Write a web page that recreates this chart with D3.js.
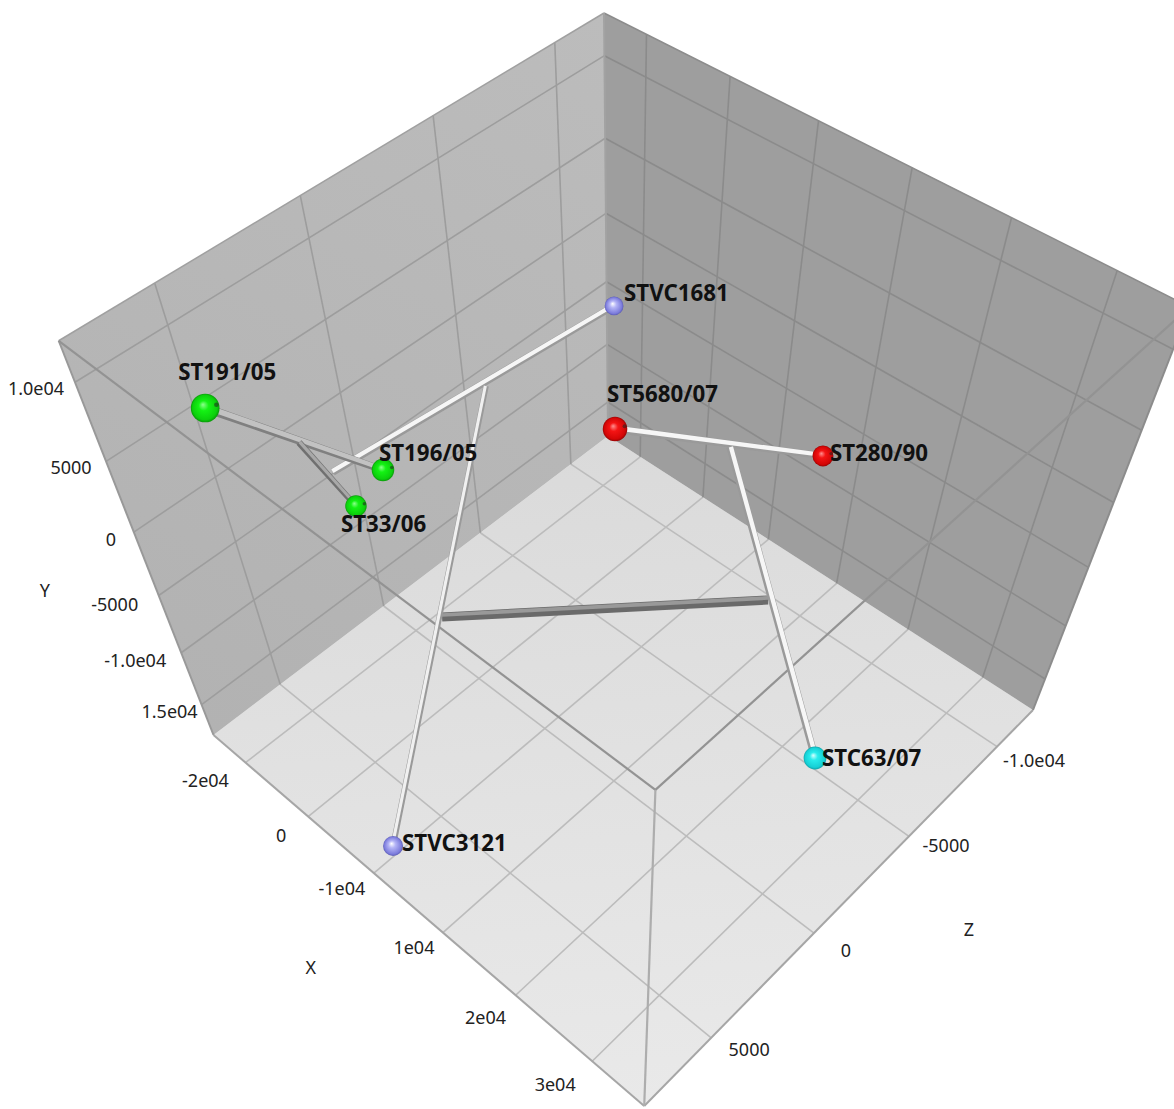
<!DOCTYPE html>
<html><head><meta charset="utf-8"><script src="https://cdn.jsdelivr.net/npm/d3@7"></script>
<style>html,body{margin:0;background:#fff}svg{display:block}</style></head>
<body><div id="chart"></div>
<script>
// strains, first 8 have a ball and a label, the rest are branch points of the tree
const nodeNames=["STVC1681","ST191/05","ST196/05","ST33/06","ST5680/07","ST280/90","STC63/07","STVC3121","J1","S","J3","K1","J4","K2"];
const nodeX=[-18340,-12440,-19140,-23530,1000,6380,27140,1650,-15260,-23700,-20990,-9740,3030,14350];
const nodeY=[-2540,11600,-3060,-7260,2900,-7610,-12130,-15360,4840,-3850,-3560,-10040,-3420,-8140];
const nodeZ=[-10090,6860,360,680,-3300,-11760,-3290,7420,3900,1240,-4780,1270,-7970,-5740];
const nodeGroup=["vc","green","green","green","red","red","cyan","vc"];
const links=[["STVC1681","S","white"],["K1","K2","thick"],["J3","STVC3121","thin"],["ST5680/07","ST280/90","white"],["J4","STC63/07","white"],["ST191/05","ST196/05","grey"],["J1","ST33/06","dark"]];

const xDomain=[-25300,36500],yDomain=[-18150,12400],zDomain=[-12150,8050];
// the tick labels are in the order the picture prints them
const xTicks=[-20000,-10000,0,10000,20000,30000],xLabels=["-2e04","0","-1e04","1e04","2e04","3e04"];
const yTicks=[10000,5000,0,-5000,-10000,-15000],yLabels=["1.0e04","5000","0","-5000","-1.0e04","1.5e04"];
const zTicks=[-10000,-5000,0,5000],zLabels=["-1.0e04","-5000","0","5000"];

// layout only
const labelNudge={"STVC1681":[10,-13],"ST191/05":[-27,-36],"ST196/05":[-4,-17],"ST33/06":[-15,18],"ST5680/07":[-8,-35],"ST280/90":[7,-3],"STC63/07":[7,0],"STVC3121":[9,-3]};
const xNudge=[[-40,18],[-27,19],[-32,16],[-29,15],[-30,22],[-37,23]];
const yNudge=[[-39,6],[-35,6],[-23,8],[-44,9],[-46,8],[-32,7]];
const zNudge=[[37,14],[37,9],[32,18],[38,12]];
const O=[608,436],CX=[1033,710],CZ=[213.5,735],CY=[604,13];
const au=0.874,av=0.7595,aw=0.873;

const width=1174,height=1109;
const svg=d3.select("#chart").append("svg").attr("width",width).attr("height",height);
const xS=d3.scaleLinear().domain(xDomain).range([0,1]),yS=d3.scaleLinear().domain(yDomain).range([0,1]),zS=d3.scaleLinear().domain(zDomain).range([0,1]);
// perspective of the unit cube, last value is the depth used for sizes
function proj(X,Y,Z){
  const u=xS(X),v=yS(Y),w=zS(Z);
  const D=1+u*(au-1)+v*(av-1)+w*(aw-1);
  return [(O[0]+u*(au*CX[0]-O[0])+v*(av*CY[0]-O[0])+w*(aw*CZ[0]-O[0]))/D,
          (O[1]+u*(au*CX[1]-O[1])+v*(av*CY[1]-O[1])+w*(aw*CZ[1]-O[1]))/D,D];
}
const nodeAt=name=>{const i=nodeNames.indexOf(name);return proj(nodeX[i],nodeY[i],nodeZ[i]);};
const line=d3.line();
const [x0,x1]=xDomain,[y0,y1]=yDomain,[z0,z1]=zDomain;

const defs=svg.append("defs");
function lin(id,a,b,c1,c2){
  const g=defs.append("linearGradient").attr("id",id).attr("gradientUnits","userSpaceOnUse")
    .attr("x1",a[0]).attr("y1",a[1]).attr("x2",b[0]).attr("y2",b[1]);
  g.append("stop").attr("offset",0).attr("stop-color",c1);
  g.append("stop").attr("offset",1).attr("stop-color",c2);
}
lin("floorFill",proj(x0,y0,z0),proj(x1,y0,z1),"#dadada","#e9e9e9");
lin("leftFill",proj(x0,y0,z1),proj(x0,y1,z0),"#b2b2b2","#bcbcbc");
const sphereStops={green:["#8dff8d","#14f214","#0cd00c","#0a9a0a"],red:["#ff9090","#f41414","#d40606","#980404"],cyan:["#d8ffff","#28ecec","#16d0d6","#10a4aa"],vc:["#ffffff","#b4b4f6","#7c7cdc","#5c5cb4"]};
Object.keys(sphereStops).forEach(k=>{
  const g=defs.append("radialGradient").attr("id","ball-"+k).attr("fx",.42).attr("fy",.38);
  [0,.35,.85,1].forEach((o,i)=>g.append("stop").attr("offset",o).attr("stop-color",sphereStops[k][i]));
});
defs.append("filter").attr("id","soft").append("feGaussianBlur").attr("stdDeviation",.6);

// walls and floor
const face=(a,f)=>svg.append("path").attr("d",line(a.map(p=>proj(...p)))+"Z").attr("fill",f);
face([[x0,y0,z0],[x1,y0,z0],[x1,y0,z1],[x0,y0,z1]],"url(#floorFill)");
face([[x0,y0,z0],[x0,y1,z0],[x0,y1,z1],[x0,y0,z1]],"url(#leftFill)");
face([[x0,y0,z0],[x1,y0,z0],[x1,y1,z0],[x0,y1,z0]],"#9e9e9e");

const seg=(a,b,c,w)=>svg.append("path").attr("d",line([proj(...a),proj(...b)])).attr("stroke",c).attr("stroke-width",w).attr("fill","none");
xTicks.forEach(t=>{seg([t,y0,z0],[t,y0,z1],"#bcbcbc",1.6);seg([t,y0,z0],[t,y1,z0],"#8b8b8b",1.6);});
zTicks.forEach(t=>{seg([x0,y0,t],[x1,y0,t],"#bcbcbc",1.6);seg([x0,y0,t],[x0,y1,t],"#9d9d9d",1.6);});
yTicks.forEach(t=>{seg([x0,t,z0],[x1,t,z0],"#8b8b8b",1.6);seg([x0,t,z0],[x0,t,z1],"#9d9d9d",1.6);});
// outline of the box
seg([x0,y0,z1],[x1,y0,z1],"#a6a6a6",2);seg([x1,y0,z0],[x1,y0,z1],"#a6a6a6",2);
seg([x0,y0,z1],[x0,y1,z1],"#999",2);seg([x1,y0,z0],[x1,y1,z0],"#8c8c8c",2);
seg([x0,y1,z0],[x0,y1,z1],"#a0a0a0",1.5);seg([x0,y1,z0],[x1,y1,z0],"#8c8c8c",1.5);
seg([x0,y0,z0],[x0,y1,z0],"#a2a2a2",2);
seg([x0,y1,z1],[x1,y1,z1],"#939393",2.2);seg([x1,y1,z0],[x1,y1,z1],"#939393",2.2);seg([x1,y0,z1],[x1,y1,z1],"#adadad",2.2);

// tubes, drawn as polygons so they widen towards the viewer
const tubes=svg.append("g").attr("filter","url(#soft)");
const tubeLayers={white:{w:5.8,l:[[1,0,"#9a9a9a"],[.6,-.14,"#f6f6f6"]]},thin:{w:4.6,l:[[1,0,"#9a9a9a"],[.55,-.14,"#f0f0f0"]]},
  grey:{w:5.6,l:[[1,0,"#808080"],[.62,-.14,"#c2c2c2"]]},dark:{w:4.6,l:[[1,0,"#707070"],[.5,-.14,"#a8a8a8"]]},thick:{w:7.4,l:[[1,0,"#6a6a6a"],[.4,-.22,"#999999"]]}};
links.forEach(([a,b,st])=>{
  const p=nodeAt(a),q=nodeAt(b);
  const dx=q[0]-p[0],dy=q[1]-p[1],n=Math.hypot(dx,dy);
  let nx=-dy/n,ny=dx/n;
  if(ny>0){nx=-nx;ny=-ny;}
  tubeLayers[st].l.forEach(([f,off,c])=>{
    const wa=tubeLayers[st].w/p[2],wb=tubeLayers[st].w/q[2];
    const o=(pt,wd,sg)=>[pt[0]+nx*(-off*wd+sg*f*wd/2),pt[1]+ny*(-off*wd+sg*f*wd/2)];
    tubes.append("path").attr("d",line([o(p,wa,1),o(q,wb,1),o(q,wb,-1),o(p,wa,-1)])+"Z").attr("fill",c);
  });
});

const ballK={green:8.9,red:8.9,cyan:9,vc:8};
nodeGroup.forEach((g,i)=>{
  const p=nodeAt(nodeNames[i]),r=ballK[g]/p[2];
  svg.append("circle").attr("cx",p[0]).attr("cy",p[1]).attr("r",r).attr("fill","url(#ball-"+g+")");
  if(g=="green"||g=="red")svg.append("circle").attr("cx",p[0]+r*.78).attr("cy",p[1]-r*.22).attr("r",r*.16).attr("fill","#222").attr("opacity",.55);
});
nodeGroup.forEach((g,i)=>{
  const nm=nodeNames[i],p=nodeAt(nm),d=labelNudge[nm];
  svg.append("text").attr("x",p[0]+d[0]).attr("y",p[1]+d[1]).attr("dy",".35em").attr("font-family","'Noto Sans'").attr("font-weight",700).attr("font-size",22.3).attr("fill","#111").text(nm);
});
const tick=(p,d,t)=>svg.append("text").attr("x",p[0]+d[0]).attr("y",p[1]+d[1]).attr("dy",".35em").attr("text-anchor","middle").attr("font-family","'Noto Sans'").attr("font-size",18).attr("fill","#222").text(t);
xTicks.forEach((t,i)=>tick(proj(t,y0,z1),xNudge[i],xLabels[i]));
yTicks.forEach((t,i)=>tick(proj(x0,t,z1),yNudge[i],yLabels[i]));
zTicks.forEach((t,i)=>tick(proj(x1,y0,t),zNudge[i],zLabels[i]));
tick(proj(0,y0,z1),[-63,95],"X");
tick(proj(x0,-5000,z1),[-114,-5],"Y");
tick(proj(x1,y0,0),[155,-3],"Z");
</script></body></html>
